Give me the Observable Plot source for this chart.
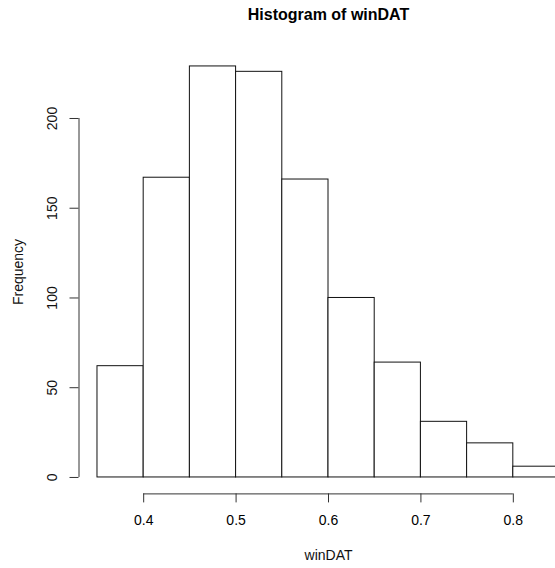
<!DOCTYPE html>
<html>
<head>
<meta charset="utf-8">
<script src="https://cdn.jsdelivr.net/npm/d3@7"></script>
<script src="https://cdn.jsdelivr.net/npm/@observablehq/plot@0.6"></script>
<style>
  html, body { margin: 0; padding: 0; background: #fff; overflow: hidden; }
  #chart { width: 555px; height: 568px; overflow: hidden; }
</style>
</head>
<body>
<div id="chart"></div>
<script>
// Data
const binEdges = [0.35, 0.40, 0.45, 0.50, 0.55, 0.60, 0.65, 0.70, 0.75, 0.80, 0.85];
const counts   = [62, 167, 229, 226, 166, 100, 64, 31, 19, 6];
const xTicks = [0.4, 0.5, 0.6, 0.7, 0.8];
const yTicks = [0, 50, 100, 150, 200];
const titleText = "Histogram of winDAT";
const xLabel = "winDAT";
const yLabel = "Frequency";

const bins = counts.map((c, i) => ({x1: binEdges[i], x2: binEdges[i + 1], count: c}));

// R-style 4% axis expansion
const xr = [binEdges[0], binEdges[binEdges.length - 1]];
const xPad = (xr[1] - xr[0]) * 0.04;
const xDomain = [xr[0] - xPad, xr[1] + xPad];
const yMax = d3.max(counts);
const yPad = yMax * 0.04;
const yDomain = [-yPad, yMax + yPad];

const W = 555, H = 568;
const mLeft = 78.5, mRight = -22.5, mTop = 49.5, mBottom = 74.6;
const font = "Liberation Sans, Arial, Helvetica, sans-serif";

const plot = Plot.plot({
  width: W,
  height: H,
  marginLeft: mLeft,
  marginRight: mRight,
  marginTop: mTop,
  marginBottom: mBottom,
  style: {fontFamily: font, background: "white", overflow: "hidden"},
  x: {domain: xDomain, range: [mLeft, W - mRight], axis: null},
  y: {domain: yDomain, range: [H - mBottom, mTop], axis: null},
  marks: [
    Plot.rectY(bins, {x1: "x1", x2: "x2", y1: 0, y2: "count", fill: "white", stroke: "#111", strokeWidth: 1, inset: 0}),
    // x axis
    Plot.ruleY([yDomain[0]], {x1: xTicks[0], x2: xTicks[xTicks.length - 1], stroke: "#333"}),
    Plot.axisX({ticks: xTicks, tickSize: 9, tickPadding: 12, fontSize: 14, stroke: "#333", tickFormat: d => d.toFixed(1), label: null}),
    // y axis
    Plot.ruleX([xDomain[0]], {y1: yTicks[0], y2: yTicks[yTicks.length - 1], stroke: "#333"}),
    Plot.axisY({ticks: yTicks, tickSize: 9, stroke: "#333", tickFormat: () => "", label: null}),
    Plot.text(yTicks, {y: d => d, text: d => String(d), frameAnchor: "left", dx: -26, rotate: -90, textAnchor: "middle", lineAnchor: "middle", fontSize: 14, fill: "#111"}),
    // labels
    Plot.text([yLabel], {frameAnchor: "left", dx: -60, rotate: -90, textAnchor: "middle", lineAnchor: "middle", fontSize: 14, fill: "#111"}),
    Plot.text([xLabel], {frameAnchor: "bottom", dy: 61.5, textAnchor: "middle", lineAnchor: "middle", fontSize: 14, fill: "#111"}),
    Plot.text([titleText], {frameAnchor: "top", dy: -35, textAnchor: "middle", lineAnchor: "middle", fontSize: 16, fontWeight: "bold", fill: "#000"})
  ]
});
document.getElementById("chart").appendChild(plot);
</script>
</body>
</html>
